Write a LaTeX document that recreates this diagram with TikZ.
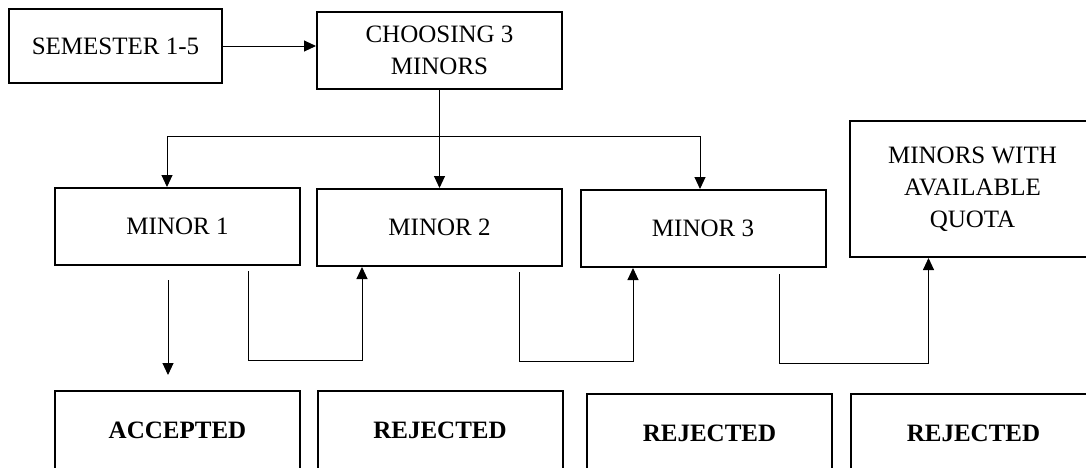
\documentclass[tikz,border=0pt]{standalone}
\usepackage{fontspec}
\setmainfont{Liberation Serif}
\usetikzlibrary{arrows.meta}

\begin{document}
\begin{tikzpicture} [x = 1pt, y = -1pt,
        box/.style = {draw, line width = 2pt, minimum width = 245pt, minimum height = 77pt, inner sep = 0pt, align = center, font = \fontsize{25}{32}\selectfont},
        result/.style = {box, minimum height = 78pt, font = \fontsize{25}{32}\selectfont\bfseries},
        link/.style = {line width = 1pt},
        arr/.style = {link, -{Triangle[length = 12pt, width = 11pt]}}]
        \path[use as bounding box, clip] (0, 0) rectangle (1086, 467);
        \node[box, minimum width = 213pt, minimum height = 74pt] (sem) at (115.5, 46) {SEMESTER 1-5};
        \node[box] (choose) at (439.5, 50.5) {CHOOSING 3\\MINORS};
        \node[box] (m1) at (177.5, 226.5) {MINOR 1};
        \node[box] (m2) at (439.5, 227.5) {MINOR 2};
        \node[box] (m3) at (703, 228.5) {MINOR 3};
        \node[box, minimum height = 136pt] (quota) at (972.5, 189) {MINORS WITH\\AVAILABLE\\QUOTA};
        \node[result] (acc) at (177.5, 430) {ACCEPTED};
        \node[result] (rej1) at (440, 430) {REJECTED};
        \node[result] (rej2) at (709.5, 433) {REJECTED};
        \node[result] (rej3) at (973.5, 433) {REJECTED};
        \coordinate (split) at (439.5, 136);
        \coordinate (d1) at (168, 280);
        \coordinate (r1) at (248, 271);
        \coordinate (r2) at (519, 272);
        \coordinate (r3) at (779, 274);
        \draw[arr] (sem) -- (choose.west |- sem);
        \draw[link] (choose) -- (split);
        \draw[arr] (split) -| ([xshift = -10.5pt]m1.north);
        \draw[arr] (split) -- (m2);
        \draw[arr] (split) -| ([xshift = -3pt]m3.north);
        \draw[arr] (d1) -- ([xshift = -9.5pt, yshift = 15pt]acc.north);
        \draw[arr] (r1) -- ++(0, 89) -| ([xshift = -77.5pt]m2.south);
        \draw[arr] (r2) -- ++(0, 89) -| ([xshift = -70pt]m3.south);
        \draw[arr] (r3) -- ++(0, 89) -| ([xshift = -44pt]quota.south);
    \end{tikzpicture}
\end{document}
